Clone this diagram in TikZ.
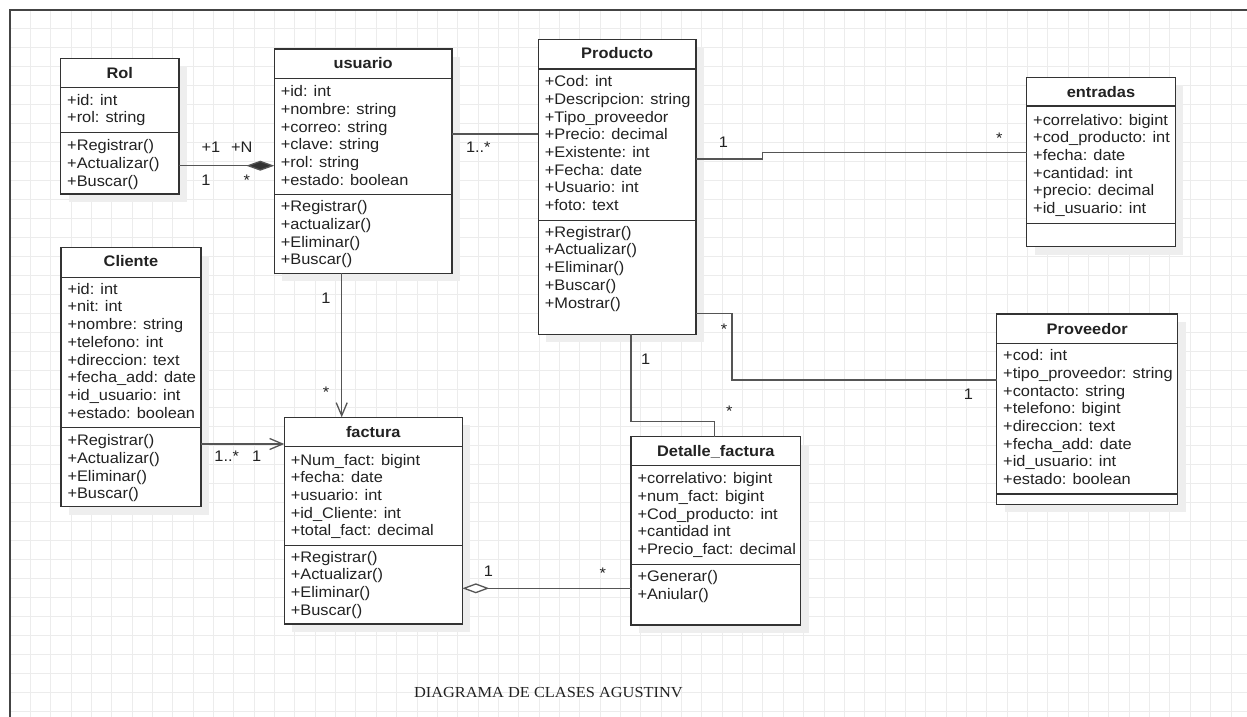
\documentclass[tikz,border=0pt]{standalone}
\usepackage{fontspec}
\usetikzlibrary{arrows.meta}
\newfontfamily\umlfont{Liberation Sans}[FakeStretch=1.07]
\newfontfamily\captionfont{Liberation Serif}[FakeStretch=1.07]
\definecolor{gridc}{HTML}{ECECEC}
\definecolor{edgec}{HTML}{333333}
\definecolor{linkc}{HTML}{555555}
\definecolor{inkc}{HTML}{222222}
\definecolor{shadc}{HTML}{EEEEEE}
\definecolor{framec}{HTML}{444444}

\tikzset{
  gridline/.style={draw=gridc, line width=1pt},
  frameline/.style={draw=framec, line width=1.6pt},
  classbox/.style={rectangle, draw=edgec, fill=white, line width=1.3pt, inner sep=0pt, outer sep=0pt},
  divider/.style={draw=edgec, line width=1.3pt},
  member/.style={anchor=west, inner sep=0pt, outer sep=0pt, text height=12pt, text depth=2pt,
    text=inkc, font=\umlfont\fontsize{15.3}{17.68}\selectfont},
  ctitle/.style={member, anchor=center, font=\umlfont\bfseries\fontsize{15.3}{17.68}\selectfont},
  mult/.style={member, anchor=center},
  link/.style={draw=linkc, line width=1.3pt},
  navarrow/.style={-{Straight Barb[length=13pt,width=11pt,line width=1.3pt]}},
  composition/.style={-{Diamond[length=28pt,width=10pt,fill=edgec]}},
  aggregation/.style={-{Diamond[open,length=27pt,width=10pt,fill=white]}},
  caption/.style={inner sep=0pt, text=inkc, font=\captionfont\fontsize{15.3}{18}\selectfont}
}

% class frame: name, left, top, right, bottom, header rule, attribute rule, title, title y
\newcommand\umlclass[9]{%
  \fill[shadc] ({#2+8},{#3+8}) rectangle ({#4+8},{#5+8});
  \node[classbox, anchor=north west, minimum width={#4-#2}, minimum height={#5-#3}] (#1) at (#2,#3) {};
  \draw[divider] (#2,#6) -- (#4,#6);
  \draw[divider] (#2,#7) -- (#4,#7);
  \node[ctitle] (#1-title) at ({(#2+#4)/2},#9) {#8};
}
% member lines of a class: name prefix, left edge, first line y, list
\newcommand\umllines[4]{%
  \foreach \t [count=\i from 0] in {#4} {
    \node[member] (#1-\i) at ({#2+6.5},{#3+17.68*\i}) {\t};
  }
}

\begin{document}
\begin{tikzpicture}[x=1pt,y=-1pt]
\useasboundingbox (0,0) rectangle (1247,717);
\fill[white] (0,0) rectangle (1247,717);

% background grid and frame
\foreach \k in {1,...,60} \draw[gridline] ({10+20.35*\k},10) -- ({10+20.35*\k},717);
\foreach \k in {1,...,37} \draw[gridline] (10,{10+18.95*\k}) -- (1247,{10+18.95*\k});
\draw[frameline] (10,717) -- (10,10) -- (1247,10);

% classes
\umlclass{rol}{60.7}{58.3}{179}{194}{87.7}{132.7}{Rol}{73}
\umllines{rolA}{60.7}{100}{+id: int, +rol: string}
\umllines{rolM}{60.7}{145.7}{+Registrar(), +Actualizar(), +Buscar()}

\umlclass{usuario}{274.3}{49}{452}{273.3}{78.3}{194.3}{usuario}{63.3}
\umllines{usuarioA}{274.3}{91.7}{+id: int, +nombre: string, +correo: string, +clave: string, +rol: string, +estado: boolean}
\umllines{usuarioM}{274.3}{206.7}{+Registrar(), +actualizar(), +Eliminar(), +Buscar()}

\umlclass{producto}{538.3}{39.3}{696}{334.3}{69}{220.7}{Producto}{54}
\umllines{productoA}{538.3}{81.7}{+Cod: int, +Descripcion: string, +Tipo\_proveedor, +Precio: decimal, +Existente: int, +Fecha: date, +Usuario: int, +foto: text}
\umllines{productoM}{538.3}{232.3}{+Registrar(), +Actualizar(), +Eliminar(), +Buscar(), +Mostrar()}

\umlclass{entradas}{1026.7}{77.3}{1175.3}{246.7}{106}{223.3}{entradas}{92.3}
\umllines{entradasA}{1026.7}{120}{+correlativo: bigint, +cod\_producto: int, +fecha: date, +cantidad: int, +precio: decimal, +id\_usuario: int}

\umlclass{cliente}{61}{247.7}{201}{506.7}{277.3}{427.7}{Cliente}{261.7}
\umllines{clienteA}{61}{289.3}{+id: int, +nit: int, +nombre: string, +telefono: int, +direccion: text, +fecha\_add: date, +id\_usuario: int, +estado: boolean}
\umllines{clienteM}{61}{440.7}{+Registrar(), +Actualizar(), +Eliminar(), +Buscar()}

\umlclass{factura}{284.3}{417.3}{462.3}{624}{446.7}{545.3}{factura}{432.7}
\umllines{facturaA}{284.3}{460}{+Num\_fact: bigint, +fecha: date, +usuario: int, +id\_Cliente: int, +total\_fact: decimal}
\umllines{facturaM}{284.3}{557.3}{+Registrar(), +Actualizar(), +Eliminar(), +Buscar()}

\umlclass{detalle}{631}{436.7}{800.7}{625}{465.7}{564.3}{Detalle\_factura}{451.7}
\umllines{detalleA}{631}{478.7}{+correlativo: bigint, +num\_fact: bigint, +Cod\_producto: int, +cantidad int, +Precio\_fact: decimal}
\umllines{detalleM}{631}{576.7}{+Generar(), +Aniular()}

\umlclass{proveedor}{996.7}{314}{1177.7}{504.3}{343.3}{494}{Proveedor}{329}
\umllines{proveedorA}{996.7}{355.7}{+cod: int, +tipo\_proveedor: string, +contacto: string, +telefono: bigint, +direccion: text, +fecha\_add: date, +id\_usuario: int, +estado: boolean}

% relations
\draw[link, composition] (rol.east |- 0,165.7) -- (usuario.west |- 0,165.7);
\draw[link] (usuario.east |- 0,134) -- (producto.west |- 0,134);
\draw[link] (producto.east |- 0,159) -- (762.5,159) -- (762.5,152.7) -- (entradas.west |- 0,152.7);
\draw[link, navarrow] (usuario.south -| 341.7,0) -- (factura.north -| 341.7,0);
\draw[link, navarrow] (cliente.east |- 0,444) -- (factura.west |- 0,444);
\draw[link, aggregation] (detalle.west |- 0,588.3) -- (factura.east |- 0,588.3);
\draw[link] (producto.south -| 631,0) -- (631,421.7) -- (714.7,421.7) -- (detalle.north -| 714.7,0);
\draw[link] (producto.east |- 0,313.3) -- (732,313.3) -- (732,380) -- (proveedor.west |- 0,380);

% multiplicities
\node[mult] (m1) at (211,147.7) {+1};
\node[mult] (m2) at (241.7,147.7) {+N};
\node[mult] (m3) at (206,180) {1};
\node[mult] (m4) at (246.7,180.5) {*};
\node[mult] (m5) at (478.3,147.3) {1..*};
\node[mult] (m6) at (723.3,142.3) {1};
\node[mult] (m7) at (999.3,138) {*};
\node[mult] (m8) at (326,298) {1};
\node[mult] (m9) at (326,392) {*};
\node[mult] (m10) at (226.7,456.7) {1..*};
\node[mult] (m11) at (256.7,456.7) {1};
\node[mult] (m12) at (488.3,571.7) {1};
\node[mult] (m13) at (602.7,573.3) {*};
\node[mult] (m14) at (645.7,359.3) {1};
\node[mult] (m15) at (729.3,411.3) {*};
\node[mult] (m16) at (724,329) {*};
\node[mult] (m17) at (968.3,394) {1};

% caption
\node[caption] (title) at (548.4,692.5) {DIAGRAMA DE CLASES AGUSTINV};
\end{tikzpicture}
\end{document}
